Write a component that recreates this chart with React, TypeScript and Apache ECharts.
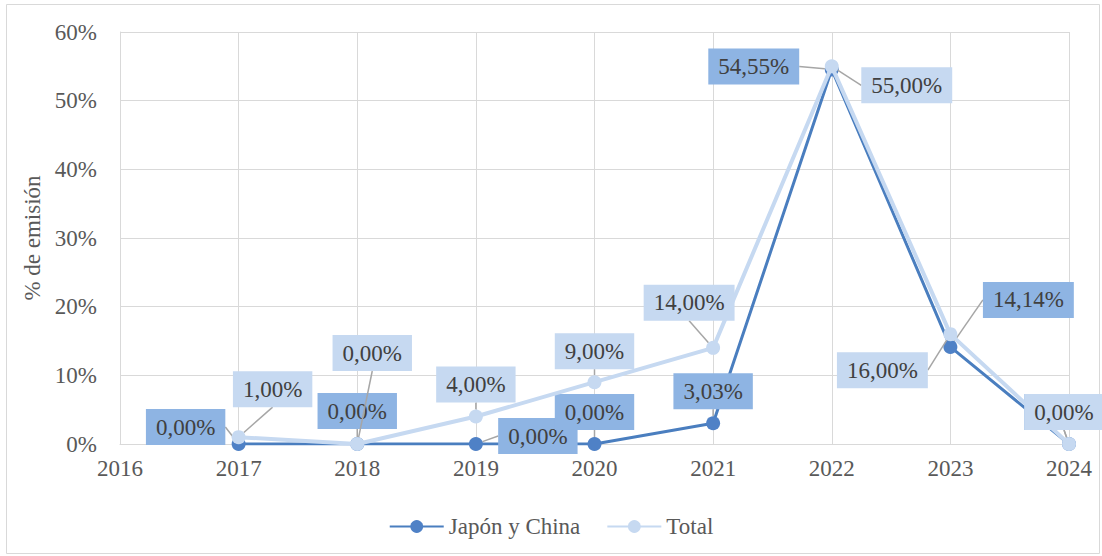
import React, { useEffect, useRef } from "react";
import * as echarts from "echarts";

const years = [2017, 2018, 2019, 2020, 2021, 2022, 2023, 2024];
const japonChina = [0, 0, 0, 0, 3.03, 54.55, 14.14, 0];
const total = [1, 0, 4, 9, 14, 55, 16, 0];
const yTicks = [0, 10, 20, 30, 40, 50, 60];

// label offsets (styling only)
const japonLabelOffsets = [[-53, -17], [0, -33], [62, -8], [0, -32], [0, -32], [-78, -3], [78, -47], [-5, -32]];
const totalLabelOffsets = [[34, -48], [15, -91], [0, -32], [0, -31], [-24, -45], [75, 19], [-68, 36], [-5, -32]];

const FONT = "Liberation Serif";
const FS = 23;

const fmt = (v: number) => v.toFixed(2).replace(".", ",") + "%";

export default function App() {
  const ref = useRef<HTMLDivElement>(null);
  useEffect(() => {
    if (!ref.current) return;
    const chart = echarts.init(ref.current, undefined, { renderer: "svg" });
    const mkLabel = (bg: string) => ({
      show: true,
      position: "inside" as const,
      formatter: (p: any) => fmt(p.value[1]),
      fontFamily: FONT,
      fontSize: FS,
      lineHeight: 24,
      color: "#404040",
      backgroundColor: bg,
      padding: [6, 10, 6, 10],
    });
    chart.setOption({
      animation: false,
      graphic: [
        {
          type: "rect",
          shape: { x: 6.5, y: 4.5, width: 1093, height: 549 },
          style: { fill: "none", stroke: "#d9d9d9", lineWidth: 1 },
          silent: true,
        },
      ],
      grid: { left: 120, right: 33, top: 32, bottom: 112, containLabel: false },
      legend: {
        bottom: 13,
        left: "center",
        itemWidth: 54,
        itemHeight: 16,
        itemGap: 26,
        textStyle: { fontFamily: FONT, fontSize: FS, color: "#595959" },
        data: ["Japón y China", "Total"],
      },
      xAxis: {
        type: "value",
        min: 2016,
        max: 2024,
        interval: 1,
        axisLine: { show: true, lineStyle: { color: "#d9d9d9", width: 1 } },
        axisTick: { show: false },
        splitLine: { show: true, lineStyle: { color: "#d9d9d9", width: 1 } },
        axisLabel: {
          formatter: (v: number) => String(v),
          fontFamily: FONT,
          fontSize: FS,
          color: "#595959",
          margin: 13,
        },
      },
      yAxis: {
        type: "value",
        min: yTicks[0],
        max: yTicks[yTicks.length - 1],
        interval: 10,
        name: "% de emisión",
        nameLocation: "middle",
        nameGap: 74,
        nameRotate: 90,
        nameTextStyle: { fontFamily: FONT, fontSize: FS, color: "#595959" },
        axisLine: { show: true, lineStyle: { color: "#d9d9d9" } },
        axisTick: { show: false },
        splitLine: { show: true, lineStyle: { color: "#d9d9d9", width: 1 } },
        axisLabel: {
          formatter: (v: number) => v + "%",
          fontFamily: FONT,
          fontSize: FS,
          color: "#595959",
          margin: 23,
        },
      },
      series: [
        {
          name: "Japón y China",
          type: "line",
          data: years.map((y, i) => [y, japonChina[i]]),
          symbol: "circle",
          symbolSize: 14,
          z: 2,
          lineStyle: { color: "#4a7ebf", width: 3 },
          itemStyle: { color: "#4f81c6" },
          label: mkLabel("#8eb4e3"),
          labelLine: { show: true, lineStyle: { color: "#a6a6a6", width: 1.5 } },
          labelLayout: (p: any) => ({
            dx: japonLabelOffsets[p.dataIndex][0],
            dy: japonLabelOffsets[p.dataIndex][1],
          }),
        },
        {
          name: "Total",
          type: "line",
          data: years.map((y, i) => [y, total[i]]),
          symbol: "circle",
          symbolSize: 14,
          z: 3,
          lineStyle: { color: "#c6d9f1", width: 4 },
          itemStyle: { color: "#c6d9f1" },
          label: mkLabel("#c6d9f1"),
          labelLine: { show: true, lineStyle: { color: "#a6a6a6", width: 1.5 } },
          labelLayout: (p: any) => ({
            dx: totalLabelOffsets[p.dataIndex][0],
            dy: totalLabelOffsets[p.dataIndex][1],
          }),
        },
      ],
    });
    return () => chart.dispose();
  }, []);
  return (
    <div
      ref={ref}
      style={{ position: "absolute", left: 0, top: 0, width: 1102, height: 556, background: "#fff" }}
    />
  );
}
